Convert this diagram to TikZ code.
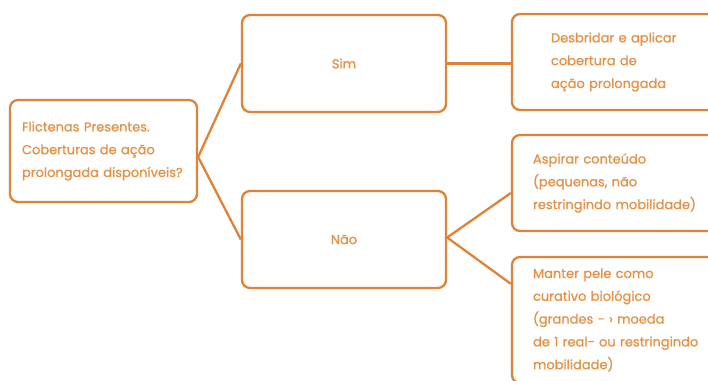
\documentclass[tikz,border=0pt]{standalone}
\usepackage{fontspec}
\setmainfont{Poppins}[FakeBold=1.2]
\definecolor{lineorange}{RGB}{222,131,58}
\definecolor{textorange}{RGB}{228,148,74}

\begin{document}
\begin{tikzpicture}[x=1pt,y=-1pt,
  box/.style={draw=lineorange,line width=2.3pt,rounded corners=8pt,fill=white,text=textorange,font=\fontsize{13}{22.8}\selectfont,align=left,inner sep=0pt},
  link/.style={draw=lineorange,line width=2.3pt}]
\useasboundingbox[fill=white] (0,0) rectangle (708,380);
% question and answers
\node[box,minimum width=187pt,minimum height=102pt,text width=163pt] (quest) at (103.5,151) {Flictenas Presentes.\\Coberturas de ação\\prolongada disponíveis?};
\node[box,minimum width=204pt,minimum height=97pt] (sim) at (344,63.5) {Sim};
\node[box,minimum width=204pt,minimum height=97pt] (nao) at (344,239.5) {Não};
% actions
\node[box,minimum width=208pt,minimum height=96pt,text width=130pt] (desbr) at (616,62) {Desbridar e aplicar\\cobertura de\\ação prolongada};
\node[box,minimum width=208pt,minimum height=96pt,text width=166pt] (aspir) at (616,183) {Aspirar conteúdo\\(pequenas, não\\restringindo mobilidade)};
\node[box,minimum width=208pt,minimum height=126pt,text width=166pt] (manter) at (616,320) {Manter pele como\\curativo biológico\\(grandes - › moeda\\de 1 real- ou restringindo\\mobilidade)};
% links
\draw[link] (sim.west) -- ([yshift=-6pt]quest.east) -- (nao.west);
\draw[link] (sim.east) -- (sim.east -| desbr.west);
\draw[link] ([yshift=-10pt]aspir.west) -- ([yshift=2pt]nao.east) -- ([yshift=-28pt]manter.north west);
\end{tikzpicture}
\end{document}
